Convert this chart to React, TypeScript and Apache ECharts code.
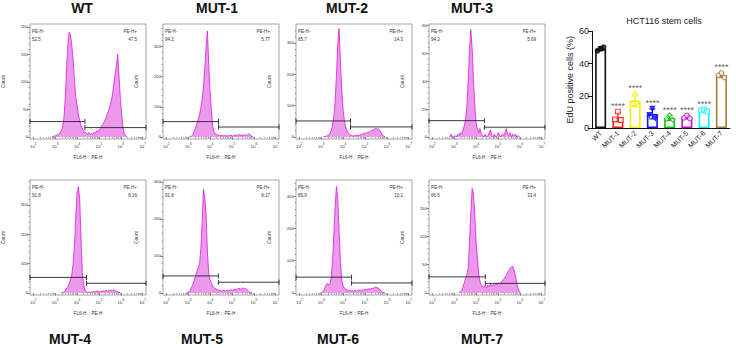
import React, { useEffect, useRef } from "react";
import * as echarts from "echarts";

// ---------- Flow-cytometry histograms (x = log10 FL6-H :: PE-H, y = Count) ----------
const LOG_BINS = [
  2.8, 2.86, 2.92, 2.98, 3.04, 3.1, 3.16, 3.22, 3.28, 3.34,
  3.4, 3.46, 3.52, 3.58, 3.64, 3.7, 3.76, 3.82, 3.88, 3.94,
  4.0, 4.06, 4.12, 4.18, 4.24, 4.3, 4.36, 4.42, 4.48, 4.54,
  4.6, 4.66, 4.72, 4.78, 4.84, 4.9, 4.96, 5.02, 5.08, 5.14,
  5.2, 5.26, 5.32, 5.38, 5.44, 5.5, 5.56, 5.62, 5.68, 5.74,
  5.8, 5.86, 5.92, 5.98, 6.04, 6.1, 6.16, 6.22, 6.28, 6.34,
  6.4,
];

const HIST_WT = [
  0, 0, 1, 2, 2, 4, 5, 7, 11, 18,
  34, 70, 124, 168, 190, 184, 166, 140, 104, 72,
  58, 41, 30, 21, 16, 11, 9, 7, 5, 8,
  4, 6, 5, 9, 7, 11, 10, 14, 16, 21,
  24, 29, 35, 41, 48, 56, 64, 78, 96, 114,
  130, 150, 108, 70, 40, 17, 6, 2, 0, 0,
  0,
];
const HIST_MUT1 = [
  0, 0, 0, 0, 0, 1, 3, 8, 18, 32,
  44, 60, 74, 98, 124, 170, 228, 300, 352, 240,
  150, 90, 36, 17, 11, 8, 6, 5, 4, 6,
  3, 5, 4, 3, 5, 4, 6, 3, 5, 7,
  4, 6, 8, 5, 7, 4, 6, 9, 5, 8,
  10, 6, 1, 0, 0, 0, 0, 0, 0, 0,
  0,
];
const HIST_MUT2 = [
  0, 0, 0, 0, 0, 0, 1, 2, 4, 7,
  12, 20, 38, 66, 118, 200, 300, 345, 240, 150,
  88, 52, 32, 20, 13, 8, 5, 4, 3, 5,
  4, 6, 5, 7, 8, 9, 11, 10, 13, 15,
  16, 19, 22, 20, 26, 28, 24, 26, 19, 14,
  7, 2, 0, 0, 0, 0, 0, 0, 0, 0,
  0,
];
const HIST_MUT3 = [
  0, 2, 0, 0, 1, 0, 2, 1, 3, 2,
  5, 8, 12, 22, 40, 62, 77, 64, 42, 24,
  10, 6, 3, 6, 2, 1, 0, 2, 0, 1,
  3, 5, 1, 0, 2, 0, 1, 3, 1, 0,
  2, 1, 3, 6, 2, 1, 3, 0, 2, 1,
  2, 0, 1, 0, 0, 0, 0, 0, 0, 0,
  0,
];
const HIST_MUT4 = [
  0, 0, 0, 0, 0, 0, 0, 0, 0, 1,
  3, 8, 15, 22, 32, 44, 62, 100, 160, 260,
  340, 362, 320, 190, 70, 28, 10, 4, 2, 3,
  2, 4, 3, 6, 4, 7, 5, 4, 6, 5,
  7, 6, 8, 6, 9, 7, 10, 8, 12, 7,
  6, 4, 2, 0, 0, 0, 0, 0, 0, 0,
  0,
];
const HIST_MUT5 = [
  0, 0, 0, 1, 3, 8, 16, 24, 34, 46,
  58, 68, 80, 120, 190, 280, 255, 210, 110, 52,
  36, 26, 19, 14, 12, 10, 8, 7, 6, 5,
  7, 6, 5, 8, 6, 7, 9, 7, 8, 10,
  9, 11, 13, 10, 12, 14, 11, 13, 9, 6,
  3, 1, 0, 0, 0, 0, 0, 0, 0, 0,
  0,
];
const HIST_MUT6 = [
  0, 0, 0, 0, 1, 6, 14, 24, 30, 26,
  28, 48, 100, 185, 270, 330, 290, 190, 100, 40,
  22, 15, 12, 9, 7, 8, 6, 7, 5, 8,
  6, 7, 9, 7, 8, 10, 9, 11, 10, 12,
  13, 12, 15, 14, 17, 18, 16, 15, 10, 6,
  3, 1, 0, 0, 0, 0, 0, 0, 0, 0,
  0,
];
const HIST_MUT7 = [
  0, 0, 0, 0, 0, 0, 0, 0, 1, 4,
  10, 18, 26, 32, 44, 90, 140, 185, 176, 140,
  92, 62, 34, 20, 14, 11, 10, 13, 9, 14,
  11, 16, 12, 15, 13, 17, 14, 18, 16, 19,
  21, 24, 28, 31, 36, 40, 44, 46, 47, 40,
  30, 18, 8, 2, 0, 0, 0, 0, 0, 0,
  0,
];

const PANEL_NAMES = ["WT", "MUT-1", "MUT-2", "MUT-3", "MUT-4", "MUT-5", "MUT-6", "MUT-7"];
const PE_NEG = ["52.5", "94.2", "85.7", "94.3", "91.8", "91.8", "89.9", "66.6"];
const PE_POS = ["47.5", "5.77", "14.3", "5.69", "8.16", "8.17", "10.1", "33.4"];
const GATE_SPLIT = [4.36, 4.39, 4.34, 4.38, 4.43, 4.38, 4.39, 4.42];
const GATE_LEFT_Y = [28, 51, 51, 11.7, 53, 46, 49, 28.5];
const GATE_RIGHT_Y = [17, 33, 32, 7, 33, 29, 31, 17];
const Y_MAX = [205, 375, 360, 81, 385, 305, 350, 200];
const Y_TICKS = [
  [0, 50, 100, 150, 200],
  [0, 100, 200, 300],
  [0, 100, 200, 300],
  [0, 20, 40, 60, 80],
  [0, 100, 200, 300],
  [0, 100, 200, 300],
  [0, 100, 200, 300],
  [0, 50, 100, 150],
];
const X_TICKS = [2, 3, 4, 5, 6, 7];

// ---------- EdU bar chart ----------
const GROUPS = ["WT", "MUT-1", "MUT-2", "MUT-3", "MUT-4", "MUT-5", "MUT-6", "MUT-7"];
const EDU_WT = [47.9, 49.3, 50.2];
const EDU_MUT1 = [5.4, 10.2, 4.9];
const EDU_MUT2 = [15.4, 21.3, 14.5];
const EDU_MUT3 = [8.1, 12.0, 6.0];
const EDU_MUT4 = [5.6, 8.0, 5.1];
const EDU_MUT5 = [6.3, 7.9, 5.9];
const EDU_MUT6 = [10.9, 11.4, 10.3];
const EDU_MUT7 = [32.7, 34.1, 31.3];
const SIGNIF = ["", "****", "****", "****", "****", "****", "****", "****"];

// ---------- styling / layout ----------
const FONT = "'Liberation Sans', Arial, Helvetica, sans-serif";
const HISTS = [HIST_WT, HIST_MUT1, HIST_MUT2, HIST_MUT3, HIST_MUT4, HIST_MUT5, HIST_MUT6, HIST_MUT7];
const EDU = [EDU_WT, EDU_MUT1, EDU_MUT2, EDU_MUT3, EDU_MUT4, EDU_MUT5, EDU_MUT6, EDU_MUT7];
const GROUP_COLORS = ["#111111", "#ff1a1a", "#f4f000", "#1010ff", "#10c010", "#c010c8", "#10f0f0", "#a97c3c"];
const GROUP_SYMBOL = ["circle", "rect", "triangle", "triangle", "diamond", "circle", "rect", "circle"];
const GROUP_FILLED = [true, false, false, true, false, false, false, false];
const GROUP_ROT = [0, 0, 0, 180, 0, 0, 0, 0];
const JITTER = [-3, 0, 3];

const PANEL_LEFT = [30, 163, 296, 429];
const PANEL_TOP = [24, 180];
const PANEL_W = 116;
const PANEL_H = 115;
const TITLE_POS = [
  [82, 8], [217, 8], [347, 8], [472, 8],
  [70, 339], [202, 339], [338, 339], [482, 339],
];
const X_MIN = 1.85;
const X_MAX = 7.15;
const HIST_LINE = "#d81cd8";
const HIST_FILL = "#ec98ec";

function buildOption() {
  const grids: any[] = [];
  const xAxes: any[] = [];
  const yAxes: any[] = [];
  const series: any[] = [];
  const graphics: any[] = [];

  const xMinor: number[] = [];
  for (let n = 2; n <= 6; n++) for (let k = 2; k <= 9; k++) xMinor.push(n + Math.log10(k));

  HISTS.forEach((counts, p) => {
    const row = Math.floor(p / 4);
    const col = p % 4;
    const left = PANEL_LEFT[col];
    const top = PANEL_TOP[row];
    const ymax = Y_MAX[p];
    const ymin = -ymax * 0.018;
    const ticks = Y_TICKS[p];
    const step = ticks[1] - ticks[0];
    const yMinor: number[] = [];
    for (let v = step / 5; v < ymax; v += step / 5) {
      if (Math.abs(v / step - Math.round(v / step)) > 1e-6) yMinor.push(v);
    }

    grids.push({ left, top, width: PANEL_W, height: PANEL_H, show: true, borderColor: "#6a6a6a", borderWidth: 0.6 });

    const xi = xAxes.length;
    xAxes.push({
      type: "value", gridIndex: p, position: "bottom", min: X_MIN, max: X_MAX,
      axisLine: { show: false }, splitLine: { show: false },
      axisTick: { show: true, customValues: X_TICKS, length: 2.5, lineStyle: { color: "#444", width: 0.6 } },
      axisLabel: {
        customValues: X_TICKS, margin: 3,
        formatter: (v: number) => `{b|10}{s|${Math.round(v)}}`,
        rich: {
          b: { fontSize: 4.4, color: "#333", fontFamily: FONT, verticalAlign: "bottom", lineHeight: 6 },
          s: { fontSize: 3.2, color: "#333", fontFamily: FONT, verticalAlign: "top", lineHeight: 6 },
        },
      },
      name: "FL6-H :: PE-H", nameLocation: "middle", nameGap: 16,
      nameTextStyle: { fontSize: 4.6, color: "#333", fontFamily: FONT },
    });
    xAxes.push({
      type: "value", gridIndex: p, position: "bottom", min: X_MIN, max: X_MAX,
      axisLine: { show: false }, splitLine: { show: false }, axisLabel: { show: false },
      axisTick: { show: true, customValues: xMinor, length: 1.4, lineStyle: { color: "#555", width: 0.5 } },
    });

    const yi = yAxes.length;
    yAxes.push({
      type: "value", gridIndex: p, position: "left", min: ymin, max: ymax,
      axisLine: { show: false }, splitLine: { show: false },
      axisTick: { show: true, customValues: ticks, length: 2.5, lineStyle: { color: "#444", width: 0.6 } },
      axisLabel: { customValues: ticks, margin: 2, fontSize: 4.4, color: "#333", fontFamily: FONT },
      name: "Count", nameLocation: "middle", nameGap: 24,
      nameTextStyle: { fontSize: 4.8, color: "#333", fontFamily: FONT },
    });
    yAxes.push({
      type: "value", gridIndex: p, position: "left", min: ymin, max: ymax,
      axisLine: { show: false }, splitLine: { show: false }, axisLabel: { show: false },
      axisTick: { show: true, customValues: yMinor, length: 1.3, lineStyle: { color: "#555", width: 0.5 } },
    });

    let f = counts.findIndex((c) => c > 0);
    let l = counts.length - 1;
    while (l > 0 && counts[l] === 0) l--;
    f = Math.max(0, f - 1);
    l = Math.min(counts.length - 1, l + 1);
    const data: number[][] = [];
    for (let i = f; i <= l; i++) data.push([LOG_BINS[i], counts[i]]);

    series.push({
      type: "line", xAxisIndex: xi, yAxisIndex: yi, data, symbol: "none", showSymbol: false, silent: true,
      lineStyle: { color: HIST_LINE, width: 0.8 }, areaStyle: { color: HIST_FILL, opacity: 1 }, z: 2,
    });
    const gateStyle = {
      type: "line", xAxisIndex: xi, yAxisIndex: yi, symbol: "rect", symbolSize: [0.9, 5], showSymbol: true,
      silent: true, lineStyle: { color: "#222", width: 0.9 }, itemStyle: { color: "#222" }, z: 3,
    };
    series.push({ ...gateStyle, data: [[X_MIN, GATE_LEFT_Y[p]], [GATE_SPLIT[p], GATE_LEFT_Y[p]]] });
    series.push({ ...gateStyle, data: [[GATE_SPLIT[p], GATE_RIGHT_Y[p]], [X_MAX, GATE_RIGHT_Y[p]]] });

    const txt = (x: number, y: number, text: string, align: string) => ({
      type: "text", x, y, silent: true,
      style: { text, fontSize: 4.5, fontFamily: FONT, fill: "#333", align, verticalAlign: "middle" },
    });
    graphics.push(txt(left + 2, top + 7.7, "PE-H-", "left"));
    graphics.push(txt(left + 2, top + 15.3, PE_NEG[p], "left"));
    graphics.push(txt(left + PANEL_W - 9, top + 7.7, "PE-H+", "right"));
    graphics.push(txt(left + PANEL_W - 9, top + 15.3, PE_POS[p], "right"));
    graphics.push({
      type: "text", x: TITLE_POS[p][0], y: TITLE_POS[p][1], silent: true,
      style: {
        text: PANEL_NAMES[p], fontSize: 14, fontWeight: "bold", fontFamily: FONT, fill: "#111",
        align: "center", verticalAlign: "middle",
      },
    });
  });

  // ---------- bar chart ----------
  const g = grids.length;
  grids.push({ left: 592, top: 31.3, width: 138, height: 96.7 });
  const bx = xAxes.length;
  xAxes.push({
    type: "category", gridIndex: g, data: GROUPS, position: "bottom",
    axisLine: { lineStyle: { color: "#111", width: 1 } },
    axisTick: { alignWithLabel: true, length: 3, lineStyle: { color: "#111", width: 1 } },
    axisLabel: { rotate: 45, interval: 0, fontSize: 7, margin: 4, color: "#222", fontFamily: FONT },
  });
  const by = yAxes.length;
  yAxes.push({
    type: "value", gridIndex: g, min: 0, max: 60, interval: 20, position: "left",
    axisLine: { show: true, lineStyle: { color: "#111", width: 1 } },
    axisTick: { show: true, length: 4, lineStyle: { color: "#111", width: 1 } },
    axisLabel: { fontSize: 9, margin: 3, color: "#222", fontFamily: FONT },
    splitLine: { show: false },
    name: "EdU positive cells (%)", nameLocation: "middle", nameGap: 18,
    nameTextStyle: { fontSize: 9, color: "#222", fontFamily: FONT },
  });

  const stats = EDU.map((pts) => {
    const m = pts.reduce((a, b) => a + b, 0) / pts.length;
    const sd = Math.sqrt(pts.reduce((a, b) => a + (b - m) * (b - m), 0) / (pts.length - 1));
    return { m, sd, top: Math.max(m + sd, ...pts) };
  });

  series.push({
    type: "bar", xAxisIndex: bx, yAxisIndex: by, barWidth: 11, silent: true, z: 2,
    data: stats.map((s, i) => ({
      value: s.m,
      itemStyle: { color: "#ffffff", borderColor: GROUP_COLORS[i], borderWidth: 1.6 },
    })),
  });
  series.push({
    type: "custom", xAxisIndex: bx, yAxisIndex: by, silent: true, z: 3,
    data: stats.map((s, i) => [i, s.m, s.sd]),
    renderItem: (_params: any, api: any) => {
      const i = api.value(0);
      const m = api.value(1);
      const sd = api.value(2);
      const pt = api.coord([i, m + sd]);
      const pb = api.coord([i, Math.max(0, m - sd)]);
      const c = GROUP_COLORS[i];
      const st = { stroke: c, lineWidth: 1.2 };
      return {
        type: "group",
        children: [
          { type: "line", shape: { x1: pt[0], y1: pt[1], x2: pb[0], y2: pb[1] }, style: st },
          { type: "line", shape: { x1: pt[0] - 3, y1: pt[1], x2: pt[0] + 3, y2: pt[1] }, style: st },
          { type: "line", shape: { x1: pb[0] - 3, y1: pb[1], x2: pb[0] + 3, y2: pb[1] }, style: st },
        ],
      };
    },
  });
  const pointData: any[] = [];
  EDU.forEach((pts, i) => {
    pts.forEach((v, j) => {
      pointData.push({
        value: [i, v],
        symbol: GROUP_SYMBOL[i],
        symbolRotate: GROUP_ROT[i],
        symbolOffset: [JITTER[j], 0],
        itemStyle: {
          color: GROUP_FILLED[i] ? GROUP_COLORS[i] : "#ffffff",
          borderColor: GROUP_COLORS[i],
          borderWidth: 1.1,
        },
      });
    });
  });
  series.push({ type: "scatter", xAxisIndex: bx, yAxisIndex: by, symbolSize: 4.6, silent: true, z: 4, data: pointData });
  series.push({
    type: "scatter", xAxisIndex: bx, yAxisIndex: by, symbolSize: 0.1, silent: true, z: 5,
    itemStyle: { color: "rgba(0,0,0,0)" },
    data: stats
      .map((s, i) => ({
        value: [i, s.top],
        label: {
          show: SIGNIF[i] !== "", formatter: SIGNIF[i], position: "top", distance: 1,
          fontSize: 9, color: "#333", fontFamily: FONT,
        },
      }))
      .filter((_d, i) => SIGNIF[i] !== ""),
  });

  graphics.push({
    type: "text", x: 664, y: 21, silent: true,
    style: {
      text: "HCT116 stem cells", fontSize: 9, fontFamily: FONT, fill: "#222",
      align: "center", verticalAlign: "middle",
    },
  });

  return {
    animation: false,
    backgroundColor: "#ffffff",
    grid: grids,
    xAxis: xAxes,
    yAxis: yAxes,
    series,
    graphic: graphics,
  };
}

export default function App() {
  const ref = useRef<HTMLDivElement>(null);
  useEffect(() => {
    if (!ref.current) return;
    const chart = echarts.init(ref.current, null, { renderer: "svg" });
    chart.setOption(buildOption() as any);
    return () => chart.dispose();
  }, []);
  return (
    <div
      ref={ref}
      style={{ position: "absolute", left: 0, top: 0, width: 736, height: 348, background: "#ffffff" }}
    />
  );
}
